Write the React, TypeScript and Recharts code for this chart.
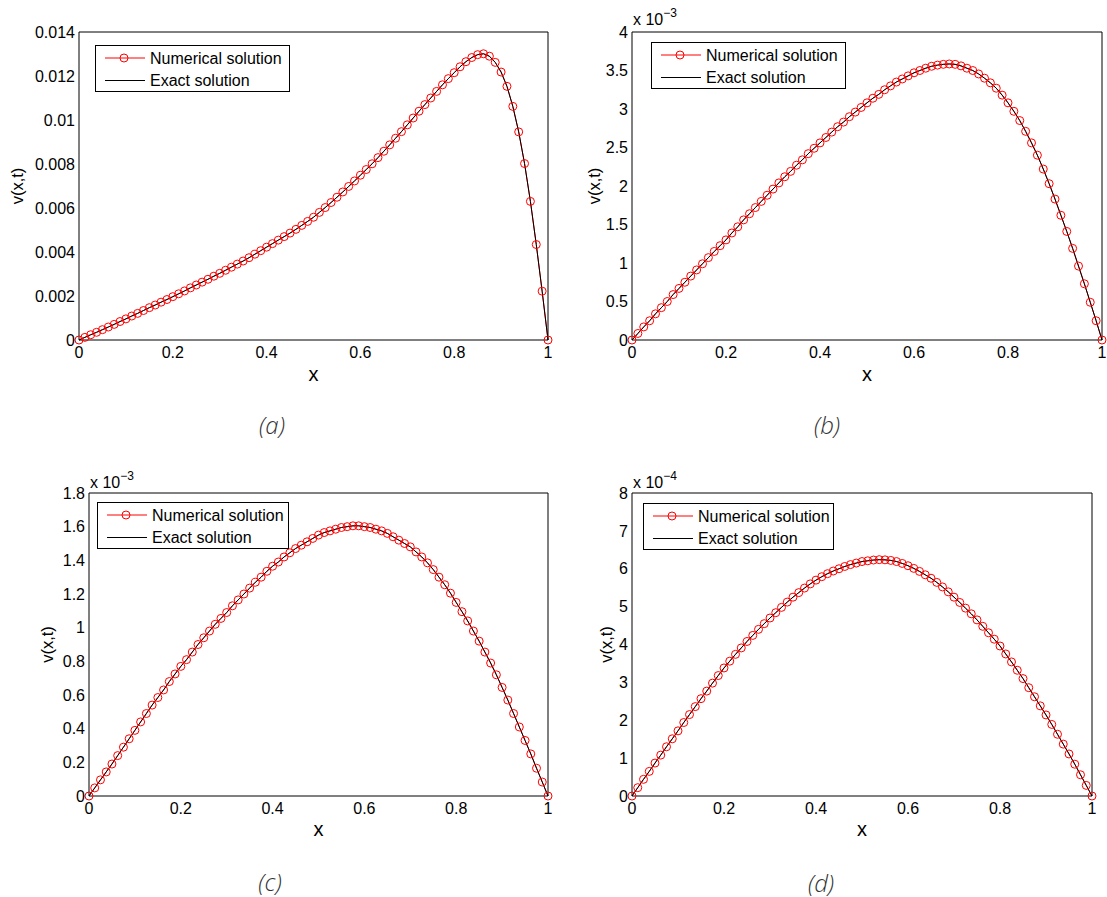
import { LineChart, Line, XAxis, YAxis } from 'recharts';

const FONT = '"Liberation Sans", Arial, Helvetica, sans-serif';
const CAPTION_FONT = '"Open Sans", "DejaVu Sans", sans-serif';

// sample points in x (81 nodes on [0, 1])
const xGrid = [
  0, 0.0125, 0.025, 0.0375, 0.05, 0.0625, 0.075, 0.0875, 0.1, 0.1125,
  0.125, 0.1375, 0.15, 0.1625, 0.175, 0.1875, 0.2, 0.2125, 0.225, 0.2375,
  0.25, 0.2625, 0.275, 0.2875, 0.3, 0.3125, 0.325, 0.3375, 0.35, 0.3625,
  0.375, 0.3875, 0.4, 0.4125, 0.425, 0.4375, 0.45, 0.4625, 0.475, 0.4875,
  0.5, 0.5125, 0.525, 0.5375, 0.55, 0.5625, 0.575, 0.5875, 0.6, 0.6125,
  0.625, 0.6375, 0.65, 0.6625, 0.675, 0.6875, 0.7, 0.7125, 0.725, 0.7375,
  0.75, 0.7625, 0.775, 0.7875, 0.8, 0.8125, 0.825, 0.8375, 0.85, 0.8625,
  0.875, 0.8875, 0.9, 0.9125, 0.925, 0.9375, 0.95, 0.9625, 0.975, 0.9875,
  1,
];
const xTicks = [0, 0.2, 0.4, 0.6, 0.8, 1];

// v(x,t) in units of 1e-3
const vA = [
  0, 0.12, 0.24, 0.35, 0.47, 0.59, 0.71, 0.84, 0.96, 1.09,
  1.21, 1.34, 1.47, 1.59, 1.72, 1.84, 1.97, 2.1, 2.23, 2.37,
  2.5, 2.63, 2.76, 2.9, 3.03, 3.17, 3.31, 3.45, 3.59, 3.74,
  3.9, 4.06, 4.22, 4.38, 4.54, 4.7, 4.86, 5.03, 5.21, 5.39,
  5.58, 5.8, 6.02, 6.25, 6.49, 6.73, 6.98, 7.23, 7.49, 7.75,
  8.01, 8.29, 8.58, 8.87, 9.17, 9.47, 9.78, 10.09, 10.4, 10.7,
  11.0, 11.3, 11.6, 11.88, 12.15, 12.42, 12.65, 12.84, 12.97, 13.01,
  12.9, 12.62, 12.18, 11.53, 10.62, 9.46, 8.02, 6.3, 4.34, 2.22,
  0,
];
const yTicksA = [0, 2, 4, 6, 8, 10, 12, 14];

// units of 1e-3
const vB = [
  0, 0.085, 0.17, 0.25, 0.34, 0.42, 0.5, 0.59, 0.67, 0.75,
  0.83, 0.91, 0.99, 1.07, 1.15, 1.225, 1.3, 1.39, 1.47, 1.56,
  1.64, 1.72, 1.8, 1.88, 1.96, 2.04, 2.12, 2.19, 2.27, 2.34,
  2.42, 2.49, 2.56, 2.63, 2.7, 2.77, 2.83, 2.9, 2.96, 3.02,
  3.08, 3.14, 3.19, 3.25, 3.3, 3.35, 3.39, 3.43, 3.47, 3.5,
  3.53, 3.555, 3.57, 3.58, 3.585, 3.58, 3.56, 3.53, 3.5, 3.455,
  3.4, 3.34, 3.27, 3.18, 3.08, 2.97, 2.85, 2.71, 2.56, 2.4,
  2.22, 2.03, 1.83, 1.62, 1.41, 1.19, 0.96, 0.73, 0.49, 0.25,
  0,
];
const yTicksB = [0, 0.5, 1, 1.5, 2, 2.5, 3, 3.5, 4];

// units of 1e-3
const vC = [
  0, 0.048, 0.096, 0.143, 0.19, 0.24, 0.29, 0.34, 0.39, 0.44,
  0.49, 0.54, 0.585, 0.63, 0.68, 0.725, 0.77, 0.81, 0.855, 0.9,
  0.94, 0.98, 1.02, 1.055, 1.09, 1.13, 1.165, 1.2, 1.235, 1.27,
  1.3, 1.335, 1.365, 1.39, 1.42, 1.445, 1.47, 1.49, 1.51, 1.53,
  1.55, 1.565, 1.575, 1.585, 1.595, 1.6, 1.605, 1.605, 1.6, 1.595,
  1.585, 1.575, 1.56, 1.54, 1.52, 1.5, 1.48, 1.45, 1.42, 1.385,
  1.345, 1.3, 1.255, 1.205, 1.15, 1.095, 1.04, 0.98, 0.92, 0.855,
  0.79, 0.72, 0.645, 0.57, 0.49, 0.41, 0.33, 0.25, 0.165, 0.083,
  0,
];
const yTicksC = [0, 0.2, 0.4, 0.6, 0.8, 1, 1.2, 1.4, 1.6, 1.8];

// units of 1e-4
const vD = [
  0, 0.22, 0.44, 0.65, 0.87, 1.08, 1.3, 1.51, 1.72, 1.94,
  2.15, 2.36, 2.57, 2.77, 2.98, 3.18, 3.38, 3.56, 3.74, 3.91,
  4.08, 4.24, 4.4, 4.55, 4.7, 4.84, 4.98, 5.12, 5.25, 5.37,
  5.49, 5.6, 5.7, 5.79, 5.87, 5.94, 6.0, 6.06, 6.11, 6.15,
  6.19, 6.21, 6.23, 6.24, 6.235, 6.22, 6.19, 6.14, 6.08, 6.01,
  5.93, 5.84, 5.75, 5.64, 5.52, 5.39, 5.25, 5.11, 4.96, 4.81,
  4.65, 4.48, 4.31, 4.14, 3.96, 3.75, 3.54, 3.32, 3.1, 2.86,
  2.62, 2.38, 2.14, 1.89, 1.63, 1.37, 1.11, 0.84, 0.56, 0.28,
  0,
];
const yTicksD = [0, 1, 2, 3, 4, 5, 6, 7, 8];

const seriesNames = ['Numerical solution', 'Exact solution'];

type Spec = {
  caption: string;
  values: number[];
  yTicks: number[];
  fmtY: (v: number) => string;
  exponent?: string;
  left: number;
  top: number;
  width: number;
  marginTop: number;
  marginRight: number;
  yAxisW: number;
  xAxisH: number;
  yLabelX: number;
  xLabelOffset: number;
  legend: { x: number; y: number; w: number };
  expPos: { x: number; y: number };
  capPos: { x: number; y: number };
};

const frame = { stroke: '#000', strokeWidth: 1 };
const tickFont = { fill: '#000', fontSize: 16, fontFamily: FONT };

function LegendBox({ x, y, w }: { x: number; y: number; w: number }) {
  const h = 47;
  return (
    <svg width={w} height={h} style={{ position: 'absolute', left: x, top: y }}>
      <rect x={0.5} y={0.5} width={w - 1} height={h - 1} fill="#fff" stroke="#000" />
      <line x1={10} x2={50} y1={13} y2={13} stroke="#ff0000" />
      <circle cx={29} cy={13} r={4} fill="none" stroke="#ff0000" />
      <text x={55} y={13} dy="0.35em" fontFamily={FONT} fontSize={16} fill="#000">
        {seriesNames[0]}
      </text>
      <line x1={10} x2={50} y1={35.5} y2={35.5} stroke="#000" />
      <text x={55} y={35.5} dy="0.35em" fontFamily={FONT} fontSize={16} fill="#000">
        {seriesNames[1]}
      </text>
    </svg>
  );
}

function Panel({ s }: { s: Spec }) {
  const rows = xGrid.map((x, i) => ({ x, v: s.values[i] }));
  const yMax = s.yTicks[s.yTicks.length - 1];
  return (
    <div style={{ position: 'absolute', left: s.left, top: s.top, width: s.width, height: 450 }}>
      <LineChart
        width={s.width}
        height={400}
        data={rows}
        margin={{ top: s.marginTop, right: s.marginRight, bottom: 0, left: 0 }}
      >
        <XAxis
          xAxisId="b"
          dataKey="x"
          type="number"
          domain={[0, 1]}
          ticks={xTicks}
          interval={0}
          tickFormatter={(v: number) => String(v)}
          tick={tickFont}
          tickLine={false}
          tickSize={0}
          tickMargin={7}
          axisLine={frame}
          height={s.xAxisH}
          label={{ value: 'x', position: 'insideTop', offset: s.xLabelOffset, fill: '#000', fontSize: 20, fontFamily: FONT }}
        />
        <XAxis xAxisId="bIn" dataKey="x" type="number" domain={[0, 1]} ticks={xTicks} interval={0}
          mirror tick={false} axisLine={false} tickLine={frame} tickSize={5} height={1} />
        <XAxis xAxisId="t" orientation="top" dataKey="x" type="number" domain={[0, 1]} ticks={xTicks} interval={0}
          mirror tick={false} axisLine={frame} tickLine={frame} tickSize={5} height={1} />
        <YAxis
          yAxisId="l"
          type="number"
          domain={[0, yMax]}
          ticks={s.yTicks}
          interval={0}
          tickFormatter={s.fmtY}
          tick={tickFont}
          tickLine={false}
          tickSize={0}
          tickMargin={4}
          axisLine={frame}
          width={s.yAxisW}
          label={{
            value: 'v(x,t)',
            angle: -90,
            position: 'insideLeft',
            offset: s.yLabelX,
            style: { textAnchor: 'middle' },
            fill: '#000',
            fontSize: 16.5,
            fontFamily: FONT,
          }}
        />
        <YAxis yAxisId="lIn" type="number" domain={[0, yMax]} ticks={s.yTicks} interval={0}
          mirror tick={false} axisLine={false} tickLine={frame} tickSize={5} width={1} />
        <YAxis yAxisId="r" orientation="right" type="number" domain={[0, yMax]} ticks={s.yTicks} interval={0}
          mirror tick={false} axisLine={frame} tickLine={frame} tickSize={5} width={1} />
        <Line
          xAxisId="b"
          yAxisId="l"
          type="linear"
          dataKey="v"
          name={seriesNames[0]}
          stroke="#ff0000"
          strokeWidth={1}
          dot={{ r: 4, stroke: '#ff0000', strokeWidth: 1, fill: 'none' }}
          activeDot={false}
          isAnimationActive={false}
        />
        <Line
          xAxisId="b"
          yAxisId="l"
          type="linear"
          dataKey="v"
          name={seriesNames[1]}
          stroke="#000"
          strokeWidth={1}
          dot={false}
          activeDot={false}
          isAnimationActive={false}
        />
      </LineChart>
      <svg
        width={s.width}
        height={450}
        style={{ position: 'absolute', left: 0, top: 0, pointerEvents: 'none', overflow: 'visible' }}
      >
        {s.exponent && (
          <text x={s.expPos.x} y={s.expPos.y} fontFamily={FONT} fontSize={16} fill="#000">
            x 10
            <tspan dy={-8} fontSize={12}>
              {s.exponent}
            </tspan>
          </text>
        )}
        <text
          x={s.capPos.x}
          y={s.capPos.y}
          textAnchor="middle"
          dominantBaseline="central"
          fontFamily={CAPTION_FONT}
          fontStyle="italic"
          fontWeight={300}
          fontSize={24}
          fill="#333"
        >
          {s.caption}
        </text>
      </svg>
      <LegendBox x={s.legend.x} y={s.legend.y} w={s.legend.w} />
    </div>
  );
}

const plain = (v: number) => String(v);

const panels: Spec[] = [
  {
    caption: '(a)',
    values: vA,
    yTicks: yTicksA,
    fmtY: (v) => (v === 0 ? '0' : String(+(v / 1000).toFixed(3))),
    left: 0,
    top: 0,
    width: 560,
    marginTop: 32,
    marginRight: 12,
    yAxisW: 79,
    xAxisH: 60,
    yLabelX: 17,
    xLabelOffset: 27,
    legend: { x: 95, y: 45, w: 195 },
    expPos: { x: 0, y: 0 },
    capPos: { x: 272, y: 424 },
  },
  {
    caption: '(b)',
    values: vB,
    yTicks: yTicksB,
    fmtY: plain,
    exponent: '\u22123',
    left: 550,
    top: 0,
    width: 557,
    marginTop: 32,
    marginRight: 5,
    yAxisW: 82,
    xAxisH: 60,
    yLabelX: 44,
    xLabelOffset: 27,
    legend: { x: 101, y: 42, w: 195 },
    expPos: { x: 83, y: 25 },
    capPos: { x: 277, y: 424 },
  },
  {
    caption: '(c)',
    values: vC,
    yTicks: yTicksC,
    fmtY: plain,
    exponent: '\u22123',
    left: 0,
    top: 450,
    width: 560,
    marginTop: 43,
    marginRight: 12,
    yAxisW: 89,
    xAxisH: 54,
    yLabelX: 47,
    xLabelOffset: 25.5,
    legend: { x: 97, y: 52, w: 192 },
    expPos: { x: 90, y: 38 },
    capPos: { x: 270, y: 431 },
  },
  {
    caption: '(d)',
    values: vD,
    yTicks: yTicksD,
    fmtY: plain,
    exponent: '\u22124',
    left: 550,
    top: 450,
    width: 557,
    marginTop: 43,
    marginRight: 15,
    yAxisW: 82,
    xAxisH: 54,
    yLabelX: 56,
    xLabelOffset: 25.5,
    legend: { x: 93, y: 53, w: 191 },
    expPos: { x: 83, y: 38 },
    capPos: { x: 271, y: 432 },
  },
];

export default function App() {
  return (
    <div style={{ position: 'absolute', left: 0, top: 0, width: 1107, height: 897, background: '#fff', overflow: 'hidden' }}>
      {panels.map((s) => (
        <Panel key={s.caption} s={s} />
      ))}
    </div>
  );
}
